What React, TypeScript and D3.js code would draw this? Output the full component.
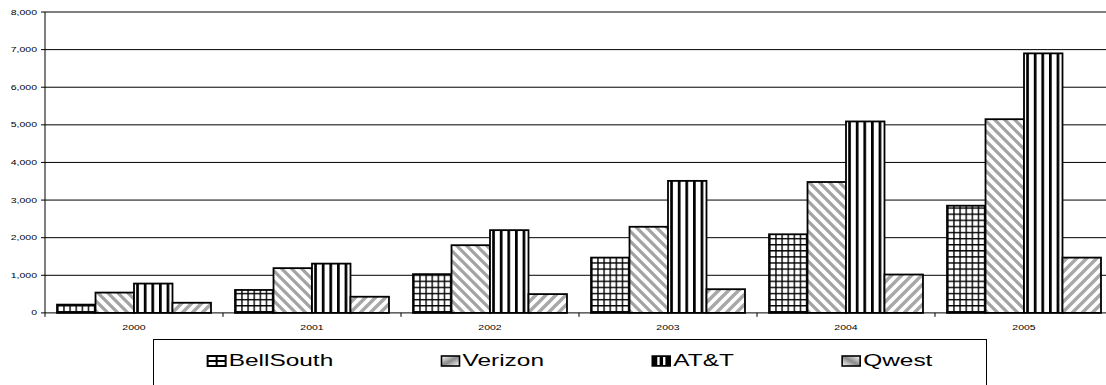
import React, { useMemo } from "react";
import * as d3 from "d3";

// Annual values per carrier, one array per series
const years = ["2000", "2001", "2002", "2003", "2004", "2005"];
const carriers = ["BellSouth", "Verizon", "AT&T", "Qwest"];
const bellSouth = [220, 610, 1030, 1470, 2090, 2850];
const verizon = [540, 1190, 1800, 2290, 3480, 5150];
const att = [780, 1310, 2200, 3510, 5090, 6900];
const qwest = [270, 430, 500, 630, 1020, 1470];
const yTicks = [0, 1000, 2000, 3000, 4000, 5000, 6000, 7000, 8000];

const seriesValues = [bellSouth, verizon, att, qwest];
const seriesFill = ["url(#pGrid)", "url(#pDown)", "url(#pVert)", "url(#pUp)"];

const W = 1106;
const H = 385;
const M = { left: 45, right: 1113, top: 12, bottom: 312.9 };
const SX = 1.5; // horizontal text stretch
const FONT = "Arial, 'Liberation Sans', sans-serif";
const LEG_FONT = 16.3;

const fmt = d3.format(",");

function measure(text: string, size: number): number {
  const c = document.createElement("canvas").getContext("2d");
  if (!c) return text.length * size * 0.55;
  c.font = `${size}px 'Liberation Sans', Arial, sans-serif`;
  return c.measureText(text).width;
}

function LegendIcon({ i, x, y, w, h }: { i: number; x: number; y: number; w: number; h: number }) {
  if (i === 0) {
    return (
      <g>
        <rect x={x} y={y} width={w} height={h} fill="#fff" stroke="#000" strokeWidth={2} />
        <line x1={x + w / 2} x2={x + w / 2} y1={y} y2={y + h} stroke="#000" strokeWidth={2} />
        <line x1={x} x2={x + w} y1={y + h / 2} y2={y + h / 2} stroke="#000" strokeWidth={2} />
      </g>
    );
  }
  if (i === 2) {
    return (
      <g>
        <rect x={x} y={y} width={w} height={h} fill="#000" stroke="#000" strokeWidth={1.5} />
        <rect x={x + w * 0.28} y={y + 1} width={w * 0.13} height={h - 2} fill="#fff" />
        <rect x={x + w * 0.6} y={y + 1} width={w * 0.13} height={h - 2} fill="#fff" />
      </g>
    );
  }
  return (
    <rect
      x={x}
      y={y}
      width={w}
      height={h}
      fill={i === 1 ? "url(#gDown)" : "url(#gUp)"}
      stroke="#000"
      strokeWidth={1.6}
    />
  );
}

export default function App() {
  const x0 = d3.scaleBand<string>().domain(years).range([M.left, M.right]).padding(0);
  const bw = x0.bandwidth();
  const edge = bw * 0.0675;
  const x1 = d3.scaleBand<string>().domain(carriers).range([edge, bw - edge]).padding(0);
  const y = d3.scaleLinear().domain([0, 8000]).range([M.bottom, M.top]);

  // Legend entries spread evenly inside the box
  const legBox = { x: 153.5, y: 339.5, w: 833, h: 60 };
  const iconW = 18;
  const iconH = 10;
  const textOff = 21;
  const legend = useMemo(() => {
    const widths = carriers.map((c) => measure(c, LEG_FONT) * SX + textOff);
    const total = d3.sum(widths);
    const gap = (legBox.w - total) / carriers.length;
    let cur = legBox.x + gap / 2;
    return widths.map((wd) => {
      const start = cur;
      cur += wd + gap;
      return start;
    });
  }, []);

  return (
    <svg width={W} height={H} style={{ display: "block", position: "absolute", left: 0, top: 0 }}>
      <defs>
        <pattern id="pGrid" patternUnits="userSpaceOnUse" width={6.1} height={6.1}>
          <rect width={6.1} height={6.1} fill="#fff" />
          <rect x={0} y={0} width={1.4} height={6.1} fill="#000" />
          <rect x={0} y={0} width={6.1} height={1.4} fill="#000" />
        </pattern>
        <pattern id="pVert" patternUnits="userSpaceOnUse" width={7.6} height={10}>
          <rect width={7.6} height={10} fill="#fff" />
          <rect x={0} y={0} width={2.7} height={10} fill="#000" />
        </pattern>
        <pattern id="pDown" patternUnits="userSpaceOnUse" width={10} height={10}>
          <rect width={10} height={10} fill="#fff" />
          <path d="M-5,-5 L15,15 M-5,5 L5,15 M5,-5 L15,5" stroke="#a3a3a3" strokeWidth={3.2} />
        </pattern>
        <pattern id="pUp" patternUnits="userSpaceOnUse" width={10} height={10}>
          <rect width={10} height={10} fill="#fff" />
          <path d="M-5,15 L15,-5 M-5,5 L5,-5 M5,15 L15,5" stroke="#a8a8a8" strokeWidth={3.4} />
        </pattern>
        <linearGradient id="gDown" x1="0" y1="0" x2="1" y2="1">
          <stop offset="0" stopColor="#fff" />
          <stop offset="0.5" stopColor="#8a8a8a" />
          <stop offset="1" stopColor="#fff" />
        </linearGradient>
        <linearGradient id="gUp" x1="0" y1="1" x2="1" y2="0">
          <stop offset="0" stopColor="#fff" />
          <stop offset="0.5" stopColor="#8a8a8a" />
          <stop offset="1" stopColor="#fff" />
        </linearGradient>
      </defs>

      <rect width={W} height={H} fill="#fff" />

      {/* horizontal gridlines */}
      {yTicks.slice(1).map((t) => (
        <line key={t} x1={M.left} x2={M.right} y1={y(t)} y2={y(t)} stroke="#000" strokeWidth={1} />
      ))}

      {/* bars */}
      {years.map((yr, yi) => (
        <g key={yr} transform={`translate(${x0(yr)},0)`}>
          {carriers.map((c, ci) => {
            const v = seriesValues[ci][yi];
            return (
              <rect
                key={c}
                x={x1(c)}
                y={y(v)}
                width={x1.bandwidth()}
                height={y(0) - y(v)}
                fill={seriesFill[ci]}
                stroke="#000"
                strokeWidth={1.8}
              />
            );
          })}
        </g>
      ))}

      {/* axes */}
      <line x1={M.left} x2={M.left} y1={M.top} y2={M.bottom} stroke="#000" strokeWidth={1} />
      <line x1={M.left} x2={M.right} y1={M.bottom} y2={M.bottom} stroke="#000" strokeWidth={1} />
      {yTicks.map((t) => (
        <g key={t}>
          <line x1={M.left - 4} x2={M.left} y1={y(t)} y2={y(t)} stroke="#000" strokeWidth={1} />
          <text
            transform={`translate(${M.left - 8},${y(t) + 2.5}) scale(${SX},1)`}
            textAnchor="end"
            fontFamily={FONT}
            fontSize={7}
            fill="#000"
          >
            {fmt(t)}
          </text>
        </g>
      ))}
      {years.map((yr) => (
        <line
          key={"tk" + yr}
          x1={x0(yr)!}
          x2={x0(yr)!}
          y1={M.bottom}
          y2={M.bottom + 4}
          stroke="#000"
          strokeWidth={1}
        />
      ))}
      {years.map((yr) => (
        <text
          key={"lb" + yr}
          transform={`translate(${x0(yr)! + bw / 2},330) scale(${SX},1)`}
          textAnchor="middle"
          fontFamily={FONT}
          fontSize={7}
          fill="#000"
        >
          {yr}
        </text>
      ))}

      {/* legend */}
      <rect x={legBox.x} y={legBox.y} width={legBox.w} height={legBox.h} fill="#fff" stroke="#000" strokeWidth={1} />
      {carriers.map((c, i) => (
        <g key={"lg" + c}>
          <LegendIcon i={i} x={legend[i]} y={356} w={iconW} h={iconH} />
          <text
            transform={`translate(${legend[i] + textOff},366) scale(${SX},1)`}
            fontFamily={FONT}
            fontSize={LEG_FONT}
            fill="#000"
          >
            {c}
          </text>
        </g>
      ))}
    </svg>
  );
}
